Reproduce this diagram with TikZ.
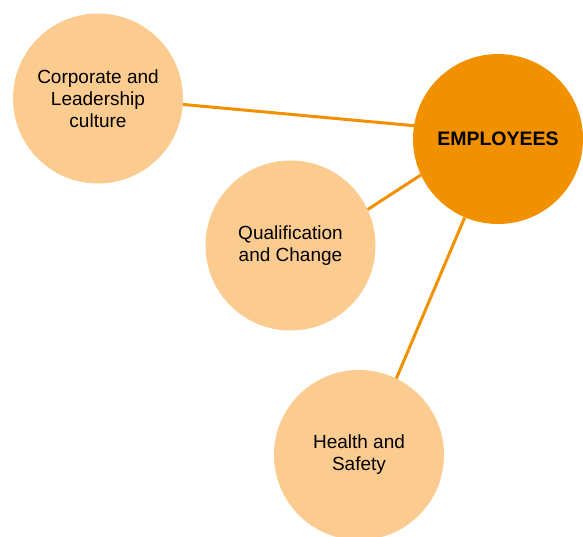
\documentclass[tikz,border=0pt]{standalone}
\usepackage{fontspec}
\setmainfont{Liberation Sans}
\definecolor{peach}{HTML}{FBCB8F}
\definecolor{deeporange}{HTML}{F29100}
\begin{document}
\begin{tikzpicture}[x=1pt,y=-1pt,
  bubble/.style={circle,minimum size=170pt,inner sep=0pt,fill=peach,align=center,
    font=\fontsize{19}{22}\selectfont},
  hub/.style={bubble,fill=deeporange,font=\fontsize{19.5}{22}\selectfont\bfseries},
  link/.style={draw=deeporange,line width=3pt}]
\useasboundingbox (0,0) rectangle (583,536);
\begin{scope}
\clip (0,0) rectangle (583,536);
\node[bubble] (corp) at (98,98.5) {Corporate and\\Leadership\\culture};
\node[hub] (emp) at (498,139) {EMPLOYEES};
\node[bubble] (qual) at (290.5,245.5) {Qualification\\and Change};
\node[bubble] (health) at (359,455) {Health and\\Safety};
\draw[link] (corp.-4.7) -- (emp.171);
\draw[link] (qual.25.5) -- (emp.205.5);
\draw[link] (health.64.5) -- (emp.247.4);
\end{scope}
\end{tikzpicture}
\end{document}
